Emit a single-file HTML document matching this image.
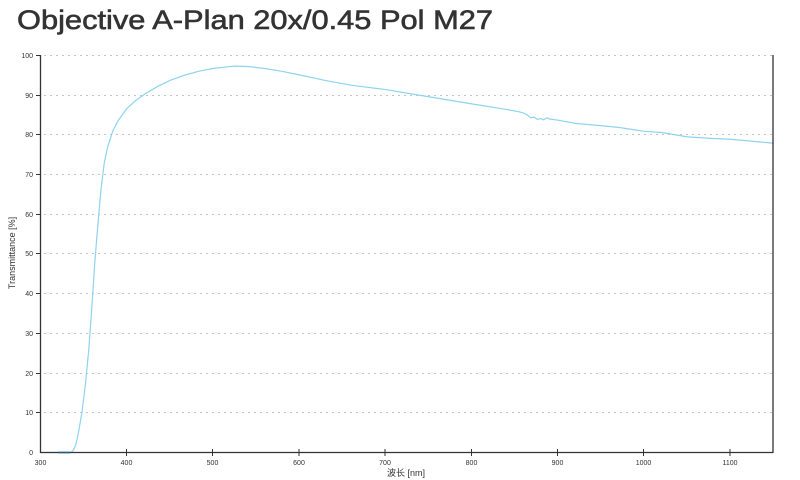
<!DOCTYPE html>
<html><head><meta charset="utf-8"><style>
body{margin:0;background:#fff;}
svg{display:block;}
</style></head><body>
<svg width="800" height="480" xmlns="http://www.w3.org/2000/svg" font-family="'Liberation Sans','Noto Sans CJK SC',sans-serif">
<text x="17" y="29" font-size="27" font-weight="normal" fill="#333" stroke="#333" stroke-width="0.6" textLength="476" lengthAdjust="spacingAndGlyphs">Objective A-Plan 20x/0.45 Pol M27</text>
<g stroke="#c4c4c4" stroke-width="1" stroke-dasharray="2,4">
<line x1="44" y1="55.5" x2="772" y2="55.5"/>
<line x1="44" y1="95.5" x2="772" y2="95.5"/>
<line x1="44" y1="134.5" x2="772" y2="134.5"/>
<line x1="44" y1="174.5" x2="772" y2="174.5"/>
<line x1="44" y1="214.5" x2="772" y2="214.5"/>
<line x1="44" y1="253.5" x2="772" y2="253.5"/>
<line x1="44" y1="293.5" x2="772" y2="293.5"/>
<line x1="44" y1="333.5" x2="772" y2="333.5"/>
<line x1="44" y1="373.5" x2="772" y2="373.5"/>
<line x1="44" y1="412.5" x2="772" y2="412.5"/>
</g>
<g transform="translate(40.5,452.5) scale(0.8627,-3.975)">
<path vector-effect="non-scaling-stroke" fill="none" stroke="#8fd3f0" stroke-width="1.2" d="M0,0 L35,0 L38,0.5 L41,2 L44,5 L48,10 L52,17 L56,26 L60,38 L63,48 L66,56 L70,66 L74,73 L78,77 L84,81 L90,83.5 L100,86.5 L110,88.5 L121,90.2 L135,92 L150,93.6 L168,95 L185,96 L200,96.6 L215,97 L225,97.2 L240,97.1 L260,96.6 L280,95.9 L300,95 L330,93.6 L360,92.4 L400,91.3 L450,89.5 L500,87.7 L540,86.3 L555,85.7 L560,85.4 L565,84.8 L568,84.2 L572,84.4 L576,83.8 L580,84 L583,83.7 L587,84.2 L590,83.9 L600,83.6 L620,82.8 L650,82.2 L670,81.8 L700,80.8 L720,80.5 L750,79.4 L780,79 L800,78.8 L825,78.3 L850,77.8"/>
</g>
<g stroke="#333" stroke-width="1.3" fill="none">
<line x1="40.5" y1="55" x2="40.5" y2="453"/>
<line x1="40" y1="452.5" x2="773" y2="452.5"/>
<line x1="773" y1="55" x2="773" y2="453"/>
<line x1="58" y1="452.5" x2="70" y2="452.5" stroke="#2a5a7a" stroke-width="1.6"/>
</g>
<g stroke="#333" stroke-width="1">
<line x1="36" y1="55.5" x2="40" y2="55.5"/><line x1="36" y1="95.5" x2="40" y2="95.5"/><line x1="36" y1="134.5" x2="40" y2="134.5"/><line x1="36" y1="174.5" x2="40" y2="174.5"/><line x1="36" y1="214.5" x2="40" y2="214.5"/><line x1="36" y1="253.5" x2="40" y2="253.5"/><line x1="36" y1="293.5" x2="40" y2="293.5"/><line x1="36" y1="333.5" x2="40" y2="333.5"/><line x1="36" y1="373.5" x2="40" y2="373.5"/><line x1="36" y1="412.5" x2="40" y2="412.5"/>
<line x1="126.5" y1="449" x2="126.5" y2="456"/><line x1="212.5" y1="449" x2="212.5" y2="456"/><line x1="299" y1="449" x2="299" y2="456"/><line x1="385" y1="449" x2="385" y2="456"/><line x1="471.5" y1="449" x2="471.5" y2="456"/><line x1="557.5" y1="449" x2="557.5" y2="456"/><line x1="643.5" y1="449" x2="643.5" y2="456"/><line x1="730" y1="449" x2="730" y2="456"/>
</g>
<g font-size="7" fill="#333" text-anchor="end">
<text x="33" y="58">100</text><text x="33" y="98">90</text><text x="33" y="137">80</text><text x="33" y="177">70</text><text x="33" y="217">60</text><text x="33" y="256">50</text><text x="33" y="296">40</text><text x="33" y="336">30</text><text x="33" y="376">20</text><text x="33" y="415">10</text><text x="33" y="455">0</text>
</g>
<g font-size="7" fill="#333" text-anchor="middle">
<text x="40.5" y="465">300</text><text x="126.5" y="465">400</text><text x="212.5" y="465">500</text><text x="299" y="465">600</text><text x="385" y="465">700</text><text x="471.5" y="465">800</text><text x="557.5" y="465">900</text><text x="643.5" y="465">1000</text><text x="730" y="465">1100</text>
</g>
<text x="406" y="476" font-size="9" fill="#333" text-anchor="middle">波长 [nm]</text>
<text transform="translate(15,253) rotate(-90)" font-size="9" fill="#333" text-anchor="middle">Transmittance [%]</text>
</svg>
</body></html>
